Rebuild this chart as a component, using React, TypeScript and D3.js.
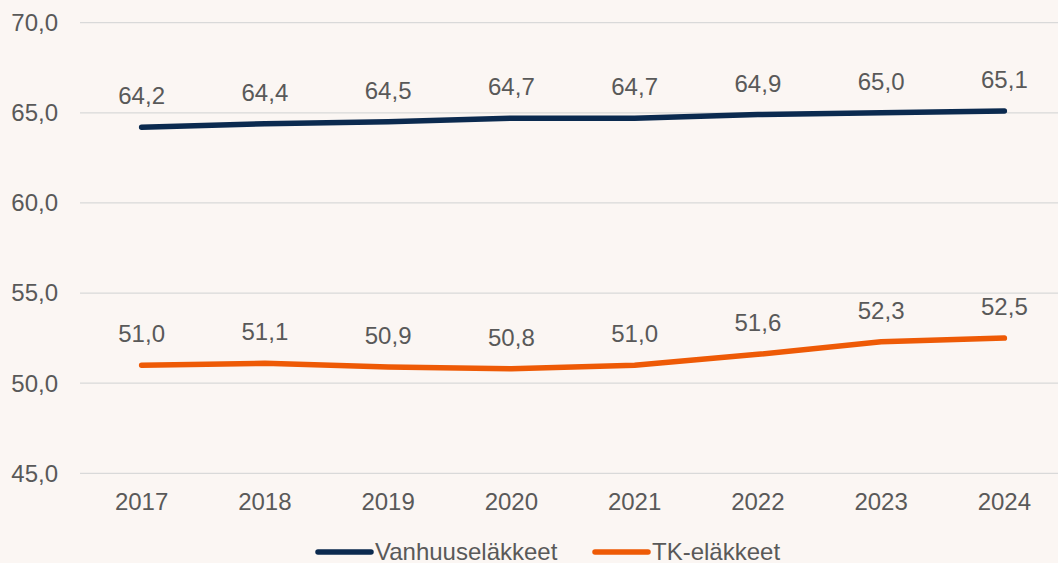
import React, { useEffect, useRef } from 'react'
import * as d3 from 'd3'

const years = ['2017', '2018', '2019', '2020', '2021', '2022', '2023', '2024']
const vanhuus = [64.2, 64.4, 64.5, 64.7, 64.7, 64.9, 65.0, 65.1]
const tk = [51.0, 51.1, 50.9, 50.8, 51.0, 51.6, 52.3, 52.5]
const yTicks = [45, 50, 55, 60, 65, 70]
const seriesNames = ['Vanhuuseläkkeet', 'TK-eläkkeet']
const seriesColors = ['#0B2A4F', '#EE5A06']

const width = 1058
const height = 563
const font = '"Liberation Sans", Arial, sans-serif'
const fontSize = 24
const textColor = '#595959'

const fmt = (v: number) => v.toFixed(1).replace('.', ',')

const App = () => {
	const ref = useRef<SVGSVGElement>(null)

	useEffect(() => {
		if (!ref.current) return
		const svg = d3.select(ref.current)
		svg.selectAll('*').remove()

		svg
			.append('rect')
			.attr('width', width)
			.attr('height', height)
			.attr('fill', '#FBF6F3')

		const x = d3.scaleBand().domain(years).range([80, 1066])
		const y = d3.scaleLinear().domain([45, 70]).range([473.3, 22.7])
		const cx = (d: string) => (x(d) as number) + x.bandwidth() / 2

		// gridlines
		svg
			.append('g')
			.selectAll('line')
			.data(yTicks)
			.join('line')
			.attr('x1', 80)
			.attr('x2', 1066)
			.attr('y1', d => y(d))
			.attr('y2', d => y(d))
			.attr('stroke', '#D9D9D9')
			.attr('stroke-width', 1.3)

		// y tick labels
		svg
			.append('g')
			.selectAll('text')
			.data(yTicks)
			.join('text')
			.attr('x', 58)
			.attr('y', d => y(d))
			.attr('dy', '0.35em')
			.attr('text-anchor', 'end')
			.attr('font-family', font)
			.attr('font-size', fontSize)
			.attr('fill', textColor)
			.text(d => fmt(d))

		// x tick labels
		svg
			.append('g')
			.selectAll('text')
			.data(years)
			.join('text')
			.attr('x', d => cx(d))
			.attr('y', 510)
			.attr('text-anchor', 'middle')
			.attr('font-family', font)
			.attr('font-size', fontSize)
			.attr('fill', textColor)
			.text(d => d)

		const series = [vanhuus, tk]
		const line = d3
			.line<number>()
			.x((_, i) => cx(years[i]))
			.y(d => y(d))

		series.forEach((vals, si) => {
			svg
				.append('path')
				.datum(vals)
				.attr('d', line)
				.attr('fill', 'none')
				.attr('stroke', seriesColors[si])
				.attr('stroke-width', 5.5)
				.attr('stroke-linecap', 'round')
				.attr('stroke-linejoin', 'round')

			svg
				.append('g')
				.selectAll('text')
				.data(vals)
				.join('text')
				.attr('x', (_, i) => cx(years[i]))
				.attr('y', d => y(d) - 23)
				.attr('text-anchor', 'middle')
				.attr('font-family', font)
				.attr('font-size', fontSize)
				.attr('fill', textColor)
				.text(d => fmt(d))
		})

		// legend
		const legendX = [318, 595]
		const legend = svg
			.append('g')
			.selectAll('g')
			.data(seriesNames)
			.join('g')
			.attr('transform', (_, i) => `translate(${legendX[i]}, 552)`)
		legend
			.append('line')
			.attr('x1', 0)
			.attr('x2', 53)
			.attr('stroke', (_, i) => seriesColors[i])
			.attr('stroke-width', 5.5)
			.attr('stroke-linecap', 'round')
		legend
			.append('text')
			.attr('x', 57)
			.attr('y', 0)
			.attr('dy', '0.33em')
			.attr('font-family', font)
			.attr('font-size', fontSize)
			.attr('fill', textColor)
			.text(d => d)
	}, [])

	return (
		<svg
			ref={ref}
			width={width}
			height={height}
			style={{ position: 'absolute', left: 0, top: 0, display: 'block' }}
		></svg>
	)
}

export default App
